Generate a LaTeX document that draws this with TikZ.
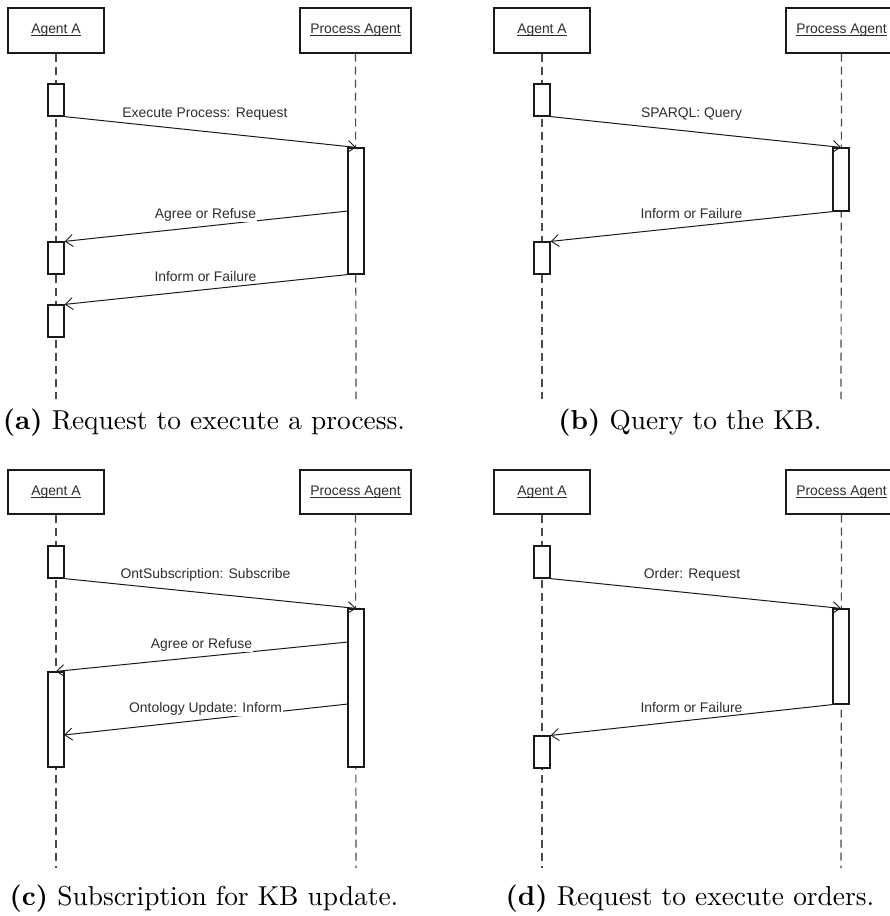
\documentclass[tikz,border=0pt]{standalone}
\usepackage{fontspec}
\usepackage{graphicx}
\newfontfamily\diagfont{Liberation Sans}
\usetikzlibrary{arrows.meta}

\definecolor{inkline}{HTML}{1A1A1A}
\definecolor{lifegray}{HTML}{4A4A4A}
\definecolor{labelgray}{HTML}{2E2E2E}

% underlined participant name
\newsavebox{\hdbox}
\newcommand{\ulname}[1]{\sbox{\hdbox}{#1}\rlap{\rule[-1.9pt]{\wd\hdbox}{0.7pt}}\usebox{\hdbox}}

\tikzset{
  diagtext/.style={font=\diagfont\fontsize{13.9}{16}\selectfont, text=labelgray},
  head/.style={draw=inkline, line width=1.2pt, fill=white, minimum width=96pt,
    minimum height=45pt, inner sep=0pt, diagtext},
  headwide/.style={head, minimum width=111pt},
  act/.style={draw=inkline, line width=1.2pt, fill=white, minimum width=16pt, inner sep=0pt},
  life/.style={draw=lifegray, line width=1.2pt, dash pattern=on 8pt off 5pt},
  msg/.style={draw=inkline, line width=1pt, -{Straight Barb[length=7.5pt,width=12pt,line width=0.9pt]}},
  lbl/.style={fill=white, inner sep=0.8pt, anchor=base, diagtext},
  subcaption/.style={anchor=base, inner sep=0pt}
}

\begin{document}
\begin{tikzpicture}[x=1pt,y=-1pt]
\useasboundingbox (0,0) rectangle (890,916);
\clip (0,0) rectangle (890,916);

%% ---------------- (a) Request to execute a process ----------------
\node[head] (aA) at (56,30.5) {\ulname{Agent A}};
\node[headwide] (aP) at (355.5,30.5) {\ulname{Process Agent}};
\coordinate (aAend) at (56,399);
\coordinate (aPend) at (356,399);
\draw[life] (aA.south) -- (aAend);
\draw[life] (aP.south) -- (aPend);
\node[act, minimum height=32pt] (aA1) at (56,100) {};
\node[act, minimum height=126pt] (aP1) at (356,211) {};
\node[act, minimum height=32pt] (aA2) at (56,258) {};
\node[act, minimum height=32pt] (aA3) at (56,321) {};
\coordinate (aPagree) at (348,211);
\draw[msg] (aA1.south east) -- (aP1.north);
\draw[msg] (aPagree) -- (aA2.north east);
\draw[msg] (aP1.south west) -- (aA3.north east);
\node[lbl] (aL1) at (205,117) {Execute Process: Request};
\node[lbl] (aL2) at (205.5,218) {Agree or Refuse};
\node[lbl] (aL3) at (205.5,281) {Inform or Failure};
\node[subcaption] (capa) at (204,429.5) {\scalebox{2.74}{\textbf{(a)} Request to execute a process.}};

%% ---------------- (b) Query to the KB ----------------
\node[head] (bA) at (542,30.5) {\ulname{Agent A}};
\node[headwide] (bP) at (841.5,30.5) {\ulname{Process Agent}};
\coordinate (bAend) at (542,399);
\coordinate (bPend) at (841,399);
\draw[life] (bA.south) -- (bAend);
\draw[life] (bP.south) -- (bPend);
\node[act, minimum height=32pt] (bA1) at (542,100) {};
\node[act, minimum height=63pt] (bP1) at (841,179.5) {};
\node[act, minimum height=32pt] (bA2) at (542,258) {};
\draw[msg] (bA1.south east) -- (bP1.north);
\draw[msg] (bP1.south west) -- (bA2.north east);
\node[lbl] (bL1) at (691.5,117) {SPARQL: Query};
\node[lbl] (bL2) at (691.5,218) {Inform or Failure};
\node[subcaption] (capb) at (690,429.5) {\scalebox{2.74}{\textbf{(b)} Query to the KB.}};

%% ---------------- (c) Subscription for KB update ----------------
\node[head, minimum height=44pt] (cA) at (56,492) {\ulname{Agent A}};
\node[headwide, minimum height=44pt] (cP) at (355.5,492) {\ulname{Process Agent}};
\coordinate (cAend) at (56,868);
\coordinate (cPend) at (356,868);
\draw[life] (cA.south) -- (cAend);
\draw[life] (cP.south) -- (cPend);
\node[act, minimum height=32pt] (cA1) at (56,562) {};
\node[act, minimum height=158pt] (cP1) at (356,688) {};
\node[act, minimum height=95pt] (cA2) at (56,719.5) {};
\coordinate (cPagree) at (348,642);
\coordinate (cPupd) at (348,704);
\coordinate (cAupd) at (64,735);
\draw[msg] (cA1.south east) -- (cP1.north);
\draw[msg] (cPagree) -- (cA2.north);
\draw[msg] (cPupd) -- (cAupd);
\node[lbl] (cL1) at (205.5,578) {OntSubscription: Subscribe};
\node[lbl] (cL2) at (201.5,648) {Agree or Refuse};
\node[lbl] (cL3) at (205.5,712) {Ontology Update: Inform};
\node[subcaption] (capc) at (204,905) {\scalebox{2.74}{\textbf{(c)} Subscription for KB update.}};

%% ---------------- (d) Request to execute orders ----------------
\node[head, minimum height=44pt] (dA) at (542,492) {\ulname{Agent A}};
\node[headwide, minimum height=44pt] (dP) at (841.5,492) {\ulname{Process Agent}};
\coordinate (dAend) at (542,868);
\coordinate (dPend) at (841,868);
\draw[life] (dA.south) -- (dAend);
\draw[life] (dP.south) -- (dPend);
\node[act, minimum height=32pt] (dA1) at (542,562) {};
\node[act, minimum height=95pt] (dP1) at (841,656.5) {};
\node[act, minimum height=32pt] (dA2) at (542,752) {};
\draw[msg] (dA1.south east) -- (dP1.north);
\draw[msg] (dP1.south west) -- (dA2.north east);
\node[lbl] (dL1) at (692,578) {Order: Request};
\node[lbl] (dL2) at (691.5,712) {Inform or Failure};
\node[subcaption] (capd) at (690,905) {\scalebox{2.74}{\textbf{(d)} Request to execute orders.}};
\end{tikzpicture}
\end{document}
